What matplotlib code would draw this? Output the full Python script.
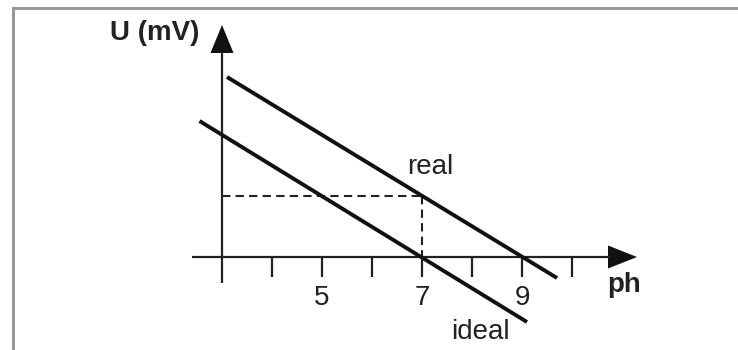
import matplotlib
matplotlib.use("Agg")
import matplotlib.pyplot as plt
from matplotlib.lines import Line2D

# data (x in pH, y in arbitrary mV units)
real_ph = [3.1, 9.7]
real_u = [3.6, -0.42]
ideal_ph = [2.55, 9.1]
ideal_u = [2.72, -1.3]
ref_ph = 7
ref_u = 1.22
tick_ph = [3, 4, 5, 6, 7, 8, 9, 10]
tick_labels = {5: "5", 7: "7", 9: "9"}

plt.rcParams['font.family'] = ['Liberation Sans', 'DejaVu Sans']

fig = plt.figure(figsize=(7.38, 3.5), dpi=100)
ax = fig.add_axes([0, 0, 1, 1])
ax.set_xlim(-1.44, 13.32)
ax.set_ylim(-1.86, 5.14)
ax.axis('off')

# frame around the picture (top and left only)
fig.add_artist(Line2D([0.0176, 1.0], [0.977, 0.977], color='#9a9a9a', lw=2.2))
fig.add_artist(Line2D([0.0176, 0.0176], [0.0, 0.977], color='#9a9a9a', lw=2.2))

# axes with arrow heads
ax.plot([2.4, 10.75], [0, 0], color='#222222', lw=1.6, solid_capstyle='butt')
ax.fill([10.72, 11.3, 10.72], [0.23, 0, -0.23], color='#111111', lw=0)
ax.plot([3, 3], [-0.52, 4.1], color='#222222', lw=1.6, solid_capstyle='butt')
ax.fill([2.77, 3, 3.23], [4.08, 4.64, 4.08], color='#111111', lw=0)

for t in tick_ph:
    if t == 3:
        continue
    ax.plot([t, t], [0, -0.4], color='#222222', lw=1.6, solid_capstyle='butt')
    if t in tick_labels:
        ax.text(t, -0.82, tick_labels[t], ha='center', va='center', fontsize=20, color='#222222')

# reference dashes
ax.plot([3, ref_ph], [ref_u, ref_u], color='#222222', lw=1.5, ls=(0, (4, 2.5)))
ax.plot([ref_ph, ref_ph], [ref_u, 0], color='#222222', lw=1.5, ls=(0, (4, 2.5)))

# the two lines
ax.plot(real_ph, real_u, color='#111111', lw=2.8, solid_capstyle='butt')
ax.plot(ideal_ph, ideal_u, color='#111111', lw=2.8, solid_capstyle='butt')

ax.text(7.16, 1.8, "real", ha='center', va='center', fontsize=20, color='#222222')
ax.text(8.16, -1.5, "ideal", ha='center', va='center', fontsize=20, color='#222222')
ax.text(11.04, -0.56, "ph", ha='center', va='center', fontsize=20, fontweight='bold', color='#222222')
ax.text(1.66, 4.48, "U (mV)", ha='center', va='center', fontsize=20, fontweight='bold', color='#222222')

fig.savefig("out.png", dpi=100)
